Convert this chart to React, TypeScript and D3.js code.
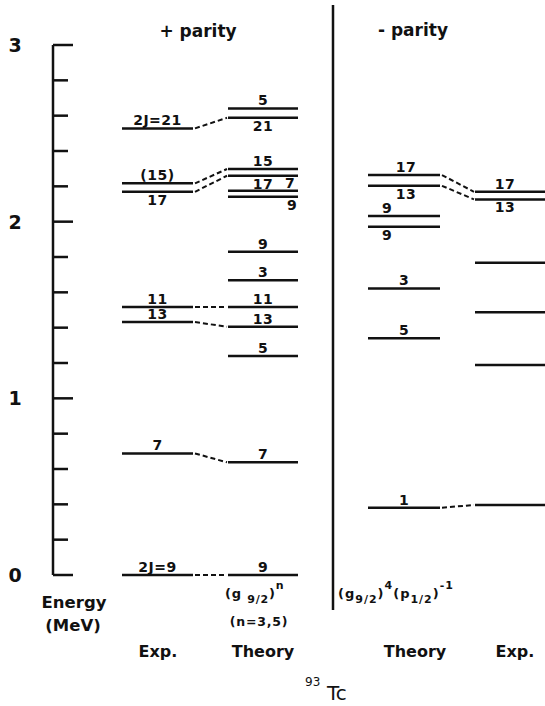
import * as d3 from "d3";

// + parity, experiment
const posExpE = [0, 0.688, 1.432, 1.517, 2.169, 2.217, 2.528];
const posExpJ = ["2J=9", "7", "13", "11", "17", "(15)", "2J=21"];
// + parity, theory (g9/2)^n
const posThE = [0, 0.638, 1.239, 1.405, 1.517, 1.669, 1.83, 2.141, 2.175, 2.26, 2.298, 2.588, 2.641];
const posThJ = ["9", "7", "5", "13", "11", "3", "9", "9", "7", "17", "15", "21", "5"];
// - parity, theory
const negThE = [0.381, 1.34, 1.622, 1.971, 2.032, 2.203, 2.264];
const negThJ = ["1", "5", "3", "9", "9", "13", "17"];
// - parity, experiment
const negExpE = [0.396, 1.188, 1.487, 1.767, 2.126, 2.169];
const negExpJ = ["", "", "", "", "13", "17"];

// dashed correspondences [left index, right index]
const posLinks = [[0, 0], [1, 1], [2, 3], [3, 4], [4, 9], [5, 10], [6, 11]];
const negLinks = [[0, 0], [5, 4], [6, 5]];

const yTickLabels = ["0", "1", "2", "3"];

// label placement (b = below, dx = shift from line centre)
const posExpPlace: Record<number, any> = { 4: { b: true } };
const posThPlace: Record<number, any> = {
  7: { b: true, dx: 29 },
  8: { dx: 27 },
  9: { b: true },
  11: { b: true },
};
const negThPlace: Record<number, any> = {
  3: { b: true, dx: -17 },
  4: { dx: -17 },
  5: { b: true, dx: 2 },
  6: { dx: 2 },
};
const negExpPlace: Record<number, any> = { 4: { b: true, dx: -5 }, 5: { dx: -5 } };

const W = 545;
const H = 706;
const font = "'DejaVu Sans', sans-serif";
const ink = "#111";

const y = d3.scaleLinear().domain([0, 3]).range([575, 45]);
const col = {
  posExp: [122, 193],
  posTh: [228, 298],
  negTh: [368, 440],
  negExp: [475, 545],
};

function Levels({ es, js, range, place }: any) {
  const [x0, x1] = range;
  const cx = (x0 + x1) / 2;
  return (
    <g>
      {es.map((e: number, i: number) => {
        const p = place[i] || {};
        const yy = y(e);
        return (
          <g key={i}>
            <line x1={x0} x2={x1} y1={yy} y2={yy} stroke={ink} strokeWidth={2.5} />
            {js[i] && (
              <text
                x={cx + (p.dx || 0)}
                y={p.b ? yy + 13 : yy - 3}
                textAnchor="middle"
                fontSize={14}
                fontWeight="bold"
                letterSpacing={0.5}
              >
                {js[i]}
              </text>
            )}
          </g>
        );
      })}
    </g>
  );
}

function Links({ links, le, re, lx, rx }: any) {
  return (
    <g>
      {links.map(([a, b]: number[], i: number) => (
        <line
          key={i}
          x1={lx}
          x2={rx}
          y1={y(le[a])}
          y2={y(re[b])}
          stroke={ink}
          strokeWidth={2}
          strokeDasharray="5,3"
        />
      ))}
    </g>
  );
}

export default function App() {
  const ticks = y.ticks(15);
  return (
    <svg
      width={W}
      height={H}
      style={{ position: "absolute", left: 0, top: 0, background: "#fff" }}
      fontFamily={font}
      fill={ink}
    >
      {/* energy axis */}
      <line x1={53} x2={53} y1={y(0)} y2={y(3)} stroke={ink} strokeWidth={2.5} />
      {ticks.map((t, i) => {
        const major = Math.abs(t - Math.round(t)) < 1e-6;
        return (
          <line key={i} x1={53} x2={major ? 73 : 68} y1={y(t)} y2={y(t)} stroke={ink} strokeWidth={2.5} />
        );
      })}
      {yTickLabels.map((s, i) => (
        <text key={s} x={15} y={y(i) + 7} textAnchor="middle" fontSize={19} fontWeight="bold">
          {s}
        </text>
      ))}
      <text x={74} y={608} textAnchor="middle" fontSize={16.5} fontWeight="bold">Energy</text>
      <text x={73} y={631} textAnchor="middle" fontSize={16.5} fontWeight="bold">(MeV)</text>

      {/* headers */}
      <text x={198} y={37} textAnchor="middle" fontSize={17} fontWeight="bold">+ parity</text>
      <text x={413} y={36} textAnchor="middle" fontSize={17} fontWeight="bold">- parity</text>

      {/* divider */}
      <line x1={333} x2={333} y1={5} y2={610} stroke={ink} strokeWidth={2.5} />

      <Levels es={posExpE} js={posExpJ} range={col.posExp} place={posExpPlace} />
      <Levels es={posThE} js={posThJ} range={col.posTh} place={posThPlace} />
      <Levels es={negThE} js={negThJ} range={col.negTh} place={negThPlace} />
      <Levels es={negExpE} js={negExpJ} range={col.negExp} place={negExpPlace} />
      <Links links={posLinks} le={posExpE} re={posThE} lx={col.posExp[1] + 2} rx={col.posTh[0] - 1} />
      <Links links={negLinks} le={negThE} re={negExpE} lx={col.negTh[1] + 2} rx={col.negExp[0] - 1} />

      {/* configurations */}
      <text x={225} y={598} fontSize={13} fontWeight="bold" letterSpacing={0.8}>
        <tspan>(g </tspan>
        <tspan dy={5} fontSize={11}>9/2</tspan>
        <tspan dy={-5}>)</tspan>
        <tspan dy={-9} fontSize={11}>n</tspan>
      </text>
      <text x={259} y={626} textAnchor="middle" fontSize={12.5} fontWeight="bold" letterSpacing={0.8}>
        (n=3,5)
      </text>
      <text x={338} y={598} fontSize={13} fontWeight="bold" letterSpacing={1}>
        <tspan>(g</tspan>
        <tspan dy={5} fontSize={11}>9/2</tspan>
        <tspan dy={-5}>)</tspan>
        <tspan dy={-9} fontSize={11}>4</tspan>
        <tspan dy={9}>(p</tspan>
        <tspan dy={5} fontSize={11}>1/2</tspan>
        <tspan dy={-5}>)</tspan>
        <tspan dy={-9} fontSize={11}>-1</tspan>
      </text>

      {/* column titles */}
      <text x={158} y={657} textAnchor="middle" fontSize={16} fontWeight="bold">Exp.</text>
      <text x={263} y={657} textAnchor="middle" fontSize={16} fontWeight="bold">Theory</text>
      <text x={415} y={657} textAnchor="middle" fontSize={16} fontWeight="bold">Theory</text>
      <text x={515} y={657} textAnchor="middle" fontSize={16} fontWeight="bold">Exp.</text>

      {/* nucleus */}
      <text x={305} y={686} fontSize={12}>93</text>
      <text x={327} y={700} fontSize={20}>Tc</text>
    </svg>
  );
}
